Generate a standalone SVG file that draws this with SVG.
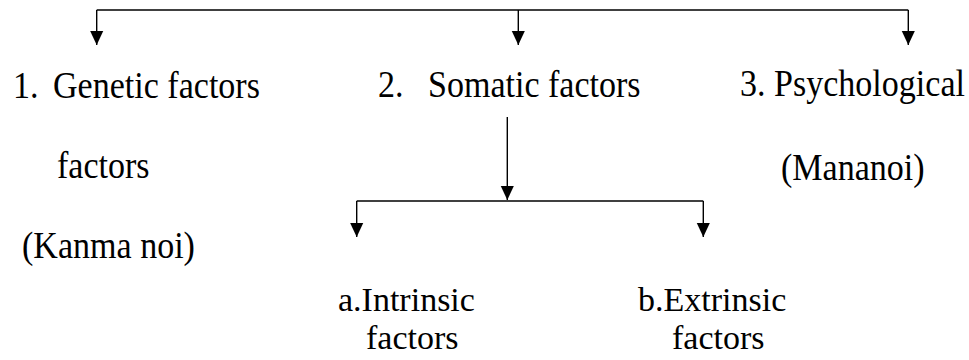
<svg xmlns="http://www.w3.org/2000/svg" width="969" height="360" viewBox="0 0 969 360">
<style>
text { font-family: "Liberation Serif", "Times New Roman", serif; font-size: 37px; fill: #000; }
text.s { font-size: 34px; }
</style>
<defs>
<marker id="ah" markerUnits="userSpaceOnUse" markerWidth="14" markerHeight="15" viewBox="0 0 15 14" refX="15" refY="7" orient="auto">
<path d="M0,0 L15,7 L0,14 z" fill="#000"/>
</marker>
</defs>
<rect width="969" height="360" fill="#fff"/>
<g id="connectors" stroke="#000" stroke-width="1.4" fill="none">
<line x1="96.7" y1="10" x2="908.3" y2="10"/>
<line x1="96.7" y1="10" x2="96.7" y2="45" marker-end="url(#ah)"/>
<line x1="518.3" y1="10" x2="518.3" y2="45" marker-end="url(#ah)"/>
<line x1="908.3" y1="10" x2="908.3" y2="45" marker-end="url(#ah)"/>
<line x1="507.3" y1="117" x2="507.3" y2="200" marker-end="url(#ah)"/>
<line x1="356.7" y1="201" x2="703.3" y2="201"/>
<line x1="356.7" y1="201" x2="356.7" y2="237" marker-end="url(#ah)"/>
<line x1="703.3" y1="201" x2="703.3" y2="237" marker-end="url(#ah)"/>
</g>
<g id="genetic">
<text transform="translate(13,98) scale(0.92,1)"><tspan x="0">1.</tspan><tspan x="43.5">Genetic factors</tspan></text>
<text transform="translate(57,178) scale(0.92,1)">factors</text>
<text transform="translate(22,258) scale(0.92,1)">(Kanma noi)</text>
</g>
<g id="somatic">
<text transform="translate(378,97) scale(0.92,1)"><tspan x="0">2.</tspan><tspan x="54.3">Somatic factors</tspan></text>
</g>
<g id="psychological">
<text transform="translate(740,96) scale(0.92,1)">3. Psychological</text>
<text transform="translate(781,180) scale(0.92,1)">(Mananoi)</text>
</g>
<g id="intrinsic">
<text class="s" x="338" y="311">a.Intrinsic</text>
<text class="s" x="366" y="349">factors</text>
</g>
<g id="extrinsic">
<text class="s" x="638" y="311">b.Extrinsic</text>
<text class="s" x="672" y="349">factors</text>
</g>
</svg>
